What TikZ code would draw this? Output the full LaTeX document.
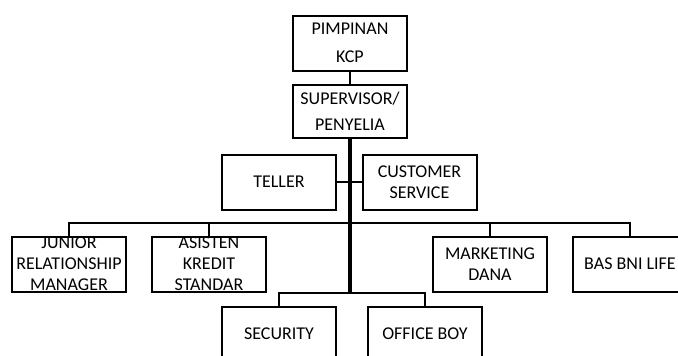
\documentclass[tikz,border=0pt]{standalone}
\usepackage{fontspec}
\setmainfont{Carlito}
\usetikzlibrary{positioning}

\begin{document}
\begin{tikzpicture}[x=1pt,y=-1pt,
		unitbox/.style={draw,line width=2pt,inner sep=0pt,align=center,
			minimum width=114pt,minimum height=55pt,
			font=\fontsize{18}{21}\selectfont},
		link/.style={line width=2.4pt},
		trunk/.style={line width=3.4pt}
	]
	\useasboundingbox (0,0) rectangle (678,356);
	\begin{scope}
	\clip (0,0) rectangle (678,356);

	% the head and the supervisor
	\node[unitbox] (pimpinan) at (350,43) {PIMPINAN\\[7pt]KCP};
	\node[unitbox,minimum height=53pt] (supervisor) at (350,111.5) {SUPERVISOR/\\[5pt]PENYELIA};

	% the front office
	\node[unitbox] (teller) at (279,182) {TELLER};
	\node[unitbox] (cs) at (419.5,182) {CUSTOMER\\SERVICE};

	% the staff row
	\node[unitbox] (junior) at (69,264) {JUNIOR\\RELATIONSHIP\\MANAGER};
	\node[unitbox] (asisten) at (209,264) {ASISTEN\\KREDIT\\STANDAR};
	\node[unitbox] (marketing) at (490,264) {MARKETING\\DANA};
	\node[unitbox] (bas) at (630,264) {BAS BNI LIFE};

	% the support row
	\node[unitbox] (security) at (279,334) {SECURITY};
	\node[unitbox] (officeboy) at (425,334) {OFFICE BOY};

	% the buses
	\coordinate (bus3) at (350,223);
	\coordinate (bus4) at (350,293);

	% the lines
	\draw[link] (pimpinan) -- (supervisor);
	\draw[trunk] (supervisor.south) -- (bus4);
	\draw[link] (teller.east) -- (cs.west);
	\draw[link] (junior.north) |- (bus3) -| (bas.north);
	\foreach \n in {asisten,marketing}
		\draw[link] (\n.north) |- (bus3);
	\draw[link] (security.north) |- (bus4) -| (officeboy.north);
	\end{scope}
\end{tikzpicture}
\end{document}
